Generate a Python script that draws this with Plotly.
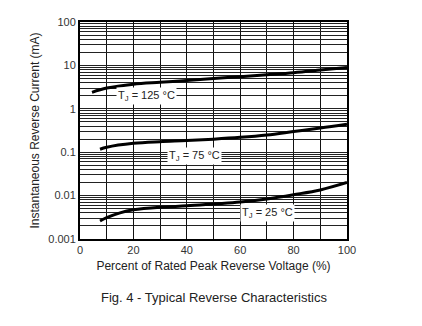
import math
import plotly.graph_objects as go

# Percent of rated peak reverse voltage (%) and reverse current (mA) per junction temperature
x_125 = [4.5, 10, 20, 30, 40, 50, 60, 70, 80, 90, 100]
i_125 = [2.4, 3.0, 3.7, 4.1, 4.5, 5.0, 5.5, 6.1, 6.8, 7.8, 9.0]

x_75 = [7.5, 10, 20, 30, 40, 50, 60, 70, 80, 90, 100]
i_75 = [0.117, 0.13, 0.16, 0.175, 0.185, 0.20, 0.22, 0.25, 0.30, 0.36, 0.44]

x_25 = [7.5, 10, 15, 20, 30, 40, 50, 60, 70, 80, 90, 100]
i_25 = [0.0026, 0.0031, 0.0040, 0.0047, 0.0054, 0.0058, 0.0064, 0.0071, 0.0084, 0.0105, 0.0135, 0.020]

series = [
    (x_125, i_125, "T<sub>J</sub> = 125 °C", 25, 1.95),
    (x_75, i_75, "T<sub>J</sub> = 75 °C", 42.7, 0.083),
    (x_25, i_25, "T<sub>J</sub> = 25 °C", 70.2, 0.0039),
]

x_ticks = [0, 20, 40, 60, 80, 100]
decades = [0.001, 0.01, 0.1, 1, 10, 100]
decade_labels = ["0.001", "0.01", "0.1", "1", "10", "100"]

font = "Liberation Sans, Arial, sans-serif"
fig = go.Figure()
for xs, ys, label, lx, ly in series:
    fig.add_trace(go.Scatter(x=xs, y=ys, mode="lines",
                             line=dict(color="black", width=3, shape="spline"),
                             showlegend=False, hoverinfo="skip"))
    # annotation positions on a log axis are given in log10 units
    fig.add_annotation(x=lx, y=math.log10(ly), yref="y", xref="x", text=label, showarrow=False,
                       bgcolor="white", borderpad=1,
                       font=dict(family=font, size=11, color="#222"))

fig.update_xaxes(range=[0, 100], tickvals=x_ticks, ticktext=[str(v) for v in x_ticks],
                 showgrid=True, gridcolor="#111", gridwidth=1.3,
                 minor=dict(dtick=10, showgrid=True, gridcolor="#111", gridwidth=1.3, ticks=""),
                 showline=True, linecolor="black", linewidth=2, mirror=True,
                 ticks="", zeroline=False,
                 tickfont=dict(family=font, size=11, color="#333"),
                 title=dict(text="Percent of Rated Peak Reverse Voltage (%)",
                            font=dict(family=font, size=12, color="#222"), standoff=6))
fig.update_yaxes(type="log", range=[-3, 2], tickvals=decades, ticktext=decade_labels,
                 showgrid=True, gridcolor="#222", gridwidth=1,
                 minor=dict(dtick="D1", showgrid=True, gridcolor="#222", gridwidth=1, ticks=""),
                 showline=True, linecolor="black", linewidth=2, mirror=True,
                 ticks="", zeroline=False,
                 tickfont=dict(family=font, size=11, color="#333"),
                 title=dict(text="Instantaneous Reverse Current (mA)",
                            font=dict(family=font, size=12, color="#222"), standoff=6))

fig.add_annotation(text="Fig. 4 - Typical Reverse Characteristics", xref="paper", yref="paper",
                   x=0.5, y=-0.27, showarrow=False, yanchor="middle",
                   font=dict(family=font, size=13, color="#222"))

fig.update_layout(width=422, height=326, margin=dict(l=80, r=75, t=22, b=87),
                  plot_bgcolor="white", paper_bgcolor="white")

fig.write_html("out.html")
